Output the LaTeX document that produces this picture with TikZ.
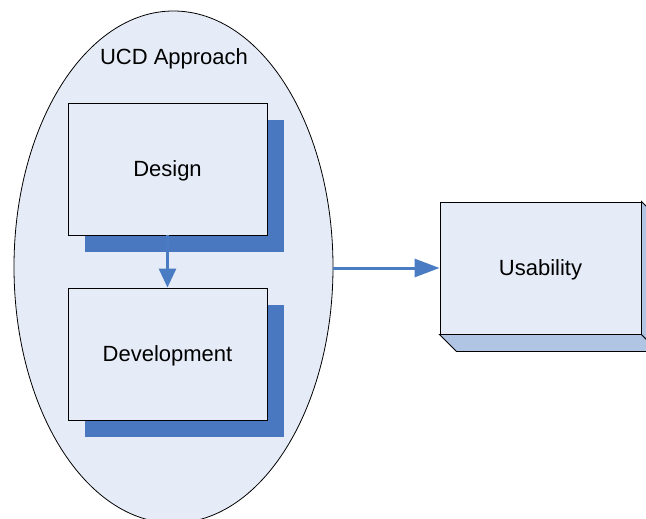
\documentclass[tikz,border=0pt]{standalone}
\usepackage{fontspec}
\setmainfont{Liberation Sans}
\usetikzlibrary{arrows.meta,shadows,shapes.geometric,calc}
\definecolor{paleblue}{HTML}{E6ECF7}
\definecolor{shadowblue}{HTML}{4A78C0}
\definecolor{arrowblue}{HTML}{4A7CC4}
\definecolor{sideblue}{HTML}{B0C4E4}
\tikzset{
  lbl/.style={font=\fontsize{22}{26}\selectfont, text=black, text depth=0pt},
  stepbox/.style={draw=black, line width=0.9pt, fill=paleblue, minimum width=199pt, minimum height=132pt, inner sep=0pt,
     drop shadow={shadow xshift=17pt, shadow yshift=-17pt, opacity=1, fill=shadowblue}},
  flow/.style={draw=arrowblue, line width=3pt, -{Triangle[length=19pt,width=17pt]}},
  flowh/.style={draw=arrowblue, line width=3pt, -{Triangle[length=25pt,width=18pt]}},
  face/.style={draw=black, line width=0.9pt, fill=sideblue, line join=miter},
}
\begin{document}
\begin{tikzpicture}[x=1pt,y=-1pt]
\useasboundingbox (0,0) rectangle (646,519);
\begin{scope}
\clip (0,0) rectangle (646,519);
\node[draw=black, line width=0.8pt, fill=paleblue, ellipse, minimum width=319pt, minimum height=512pt, inner sep=0pt] (ucd) at (173.5,267) {};
\node[lbl] (title) at (174,57) {UCD Approach};
\node[stepbox, lbl] (design) at (167.5,169) {Design};
\node[stepbox, lbl] (dev) at (167.5,354) {Development};
\node[draw=black, line width=0.9pt, fill=paleblue, minimum width=201pt, minimum height=132pt, inner sep=0pt, lbl] (use) at (540.5,268) {Usability};
\coordinate (bl) at ($(use.south west)+(17,17)$);
\coordinate (br) at ($(use.south east)+(17,17)$);
\coordinate (tr) at ($(use.north east)+(17,17)$);
\draw[face] (use.south west) -- (use.south east) -- (br) -- (bl) -- cycle;
\draw[face] (use.north east) -- (tr) -- (br) -- (use.south east) -- cycle;
\draw[flow] (design.south) -- (dev.north);
\draw[flowh] (ucd.east |- use.west) -- (use.west);
\end{scope}
\end{tikzpicture}
\end{document}
